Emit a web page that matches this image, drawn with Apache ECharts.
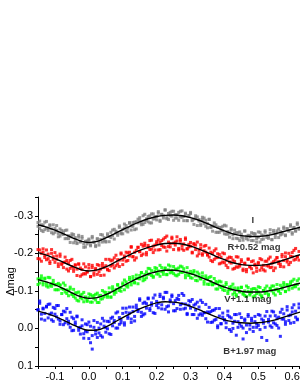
<!DOCTYPE html>
<html><head><meta charset="utf-8">
<script src="https://cdn.jsdelivr.net/npm/echarts@6/dist/echarts.min.js"></script>
<style>html,body{margin:0;padding:0;background:#fff}#c{width:300px;height:388px}</style>
</head><body><div id="c"></div>
<script>
const phase = [
-0.150,-0.145,-0.140,-0.135,-0.130,
-0.125,-0.120,-0.115,-0.110,-0.105,
-0.100,-0.095,-0.090,-0.085,-0.080,
-0.075,-0.070,-0.065,-0.060,-0.055,
-0.050,-0.045,-0.040,-0.035,-0.030,
-0.025,-0.020,-0.015,-0.010,-0.005,
0.000,0.005,0.010,0.015,0.020,
0.025,0.030,0.035,0.040,0.045,
0.050,0.055,0.060,0.065,0.070,
0.075,0.080,0.085,0.090,0.095,
0.100,0.105,0.110,0.115,0.120,
0.125,0.130,0.135,0.140,0.145,
0.150,0.155,0.160,0.165,0.170,
0.175,0.180,0.185,0.190,0.195,
0.200,0.205,0.210,0.215,0.220,
0.225,0.230,0.235,0.240,0.245,
0.250,0.255,0.260,0.265,0.270,
0.275,0.280,0.285,0.290,0.295,
0.300,0.305,0.310,0.315,0.320,
0.325,0.330,0.335,0.340,0.345,
0.350,0.355,0.360,0.365,0.370,
0.375,0.380,0.385,0.390,0.395,
0.400,0.405,0.410,0.415,0.420,
0.425,0.430,0.435,0.440,0.445,
0.450,0.455,0.460,0.465,0.470,
0.475,0.480,0.485,0.490,0.495,
0.500,0.505,0.510,0.515,0.520,
0.525,0.530,0.535,0.540,0.545,
0.550,0.555,0.560,0.565,0.570,
0.575,0.580,0.585,0.590,0.595,
0.600,0.605,0.610,0.615,0.620];

const iMagA = [
-0.272,-0.286,-0.261,-0.275,-0.263,
-0.285,-0.267,-0.274,-0.255,-0.276,
-0.256,-0.261,-0.244,-0.265,-0.252,
-0.257,-0.239,-0.262,-0.239,-0.244,
-0.252,-0.228,-0.242,-0.228,-0.248,
-0.230,-0.240,-0.216,-0.232,-0.225,
-0.235,-0.220,-0.241,-0.230,-0.218,
-0.239,-0.230,-0.250,-0.230,-0.242,
-0.230,-0.252,-0.245,-0.242,-0.262,
-0.238,-0.259,-0.254,-0.269,-0.252,
-0.264,-0.278,-0.260,-0.267,-0.280,
-0.262,-0.282,-0.263,-0.284,-0.281,
-0.295,-0.281,-0.277,-0.304,-0.292,
-0.284,-0.300,-0.281,-0.305,-0.293,
-0.298,-0.311,-0.288,-0.303,-0.294,
-0.315,-0.292,-0.306,-0.300,-0.312,
-0.288,-0.303,-0.294,-0.309,-0.297,
-0.313,-0.287,-0.304,-0.287,-0.300,
-0.306,-0.289,-0.291,-0.300,-0.274,
-0.290,-0.278,-0.296,-0.279,-0.288,
-0.268,-0.291,-0.269,-0.273,-0.281,
-0.256,-0.270,-0.256,-0.269,-0.260,
-0.275,-0.251,-0.258,-0.243,-0.262,
-0.249,-0.262,-0.240,-0.255,-0.234,
-0.251,-0.242,-0.259,-0.245,-0.236,
-0.247,-0.255,-0.234,-0.252,-0.239,
-0.257,-0.230,-0.249,-0.238,-0.256,
-0.247,-0.244,-0.263,-0.237,-0.256,
-0.242,-0.254,-0.265,-0.249,-0.255,
-0.266,-0.247,-0.266,-0.259,-0.276,
-0.255,-0.269,-0.260,-0.277,-0.267];
const iMagB = [
-0.282,-0.266,-0.276,-0.258,-0.283,
-0.267,-0.261,-0.276,-0.265,-0.252,
-0.266,-0.274,-0.253,-0.246,-0.261,
-0.250,-0.261,-0.240,-0.247,-0.229,
-0.247,-0.250,-0.234,-0.226,-0.243,
-0.232,-0.245,-0.225,-0.217,-0.233,
-0.238,-0.223,-0.245,-0.229,-0.221,
-0.238,-0.222,-0.237,-0.249,-0.234,
-0.232,-0.247,-0.231,-0.256,-0.247,
-0.264,-0.254,-0.248,-0.273,-0.255,
-0.252,-0.267,-0.274,-0.257,-0.282,
-0.273,-0.272,-0.283,-0.265,-0.291,
-0.287,-0.276,-0.300,-0.282,-0.288,
-0.298,-0.281,-0.305,-0.291,-0.298,
-0.289,-0.307,-0.285,-0.304,-0.300,
-0.316,-0.295,-0.290,-0.309,-0.299,
-0.312,-0.294,-0.303,-0.288,-0.312,
-0.296,-0.298,-0.307,-0.287,-0.301,
-0.309,-0.287,-0.277,-0.294,-0.297,
-0.286,-0.274,-0.290,-0.294,-0.272,
-0.279,-0.290,-0.270,-0.259,-0.272,
-0.276,-0.256,-0.269,-0.261,-0.272,
-0.252,-0.273,-0.251,-0.254,-0.266,
-0.239,-0.253,-0.255,-0.239,-0.257,
-0.243,-0.235,-0.260,-0.239,-0.248,
-0.245,-0.234,-0.253,-0.251,-0.230,
-0.243,-0.256,-0.237,-0.247,-0.260,
-0.242,-0.240,-0.253,-0.236,-0.261,
-0.249,-0.260,-0.242,-0.258,-0.251,
-0.270,-0.249,-0.265,-0.261,-0.272,
-0.251,-0.268,-0.259,-0.281,-0.264];

const rMagA = [
-0.210,-0.185,-0.200,-0.212,-0.189,
-0.183,-0.198,-0.173,-0.200,-0.184,
-0.202,-0.184,-0.172,-0.198,-0.170,
-0.162,-0.177,-0.181,-0.153,-0.181,
-0.165,-0.159,-0.169,-0.141,-0.171,
-0.161,-0.143,-0.172,-0.145,-0.151,
-0.161,-0.138,-0.168,-0.148,-0.156,
-0.144,-0.168,-0.141,-0.166,-0.162,
-0.184,-0.158,-0.154,-0.180,-0.169,
-0.188,-0.167,-0.183,-0.165,-0.201,
-0.182,-0.188,-0.203,-0.181,-0.203,
-0.216,-0.191,-0.182,-0.208,-0.216,
-0.205,-0.194,-0.219,-0.227,-0.202,
-0.216,-0.234,-0.211,-0.202,-0.222,
-0.231,-0.209,-0.229,-0.221,-0.238,
-0.216,-0.246,-0.218,-0.226,-0.243,
-0.210,-0.230,-0.233,-0.213,-0.237,
-0.220,-0.208,-0.241,-0.212,-0.224,
-0.219,-0.203,-0.226,-0.222,-0.193,
-0.208,-0.223,-0.195,-0.207,-0.221,
-0.195,-0.190,-0.203,-0.178,-0.207,
-0.188,-0.199,-0.172,-0.190,-0.177,
-0.199,-0.168,-0.187,-0.177,-0.189,
-0.158,-0.178,-0.164,-0.190,-0.166,
-0.178,-0.158,-0.172,-0.151,-0.184,
-0.164,-0.159,-0.180,-0.168,-0.152,
-0.173,-0.186,-0.162,-0.156,-0.179,
-0.167,-0.185,-0.162,-0.174,-0.154,
-0.182,-0.189,-0.173,-0.165,-0.191,
-0.181,-0.201,-0.177,-0.170,-0.192,
-0.202,-0.182,-0.213,-0.191,-0.182];
const rMagB = [
-0.186,-0.209,-0.179,-0.203,-0.195,
-0.209,-0.186,-0.178,-0.210,-0.191,
-0.176,-0.193,-0.165,-0.192,-0.173,
-0.176,-0.190,-0.158,-0.174,-0.160,
-0.184,-0.152,-0.169,-0.158,-0.172,
-0.139,-0.157,-0.146,-0.164,-0.150,
-0.170,-0.138,-0.162,-0.142,-0.160,
-0.170,-0.151,-0.158,-0.173,-0.142,
-0.167,-0.156,-0.184,-0.166,-0.182,
-0.161,-0.195,-0.172,-0.182,-0.198,
-0.170,-0.193,-0.179,-0.201,-0.193,
-0.218,-0.191,-0.203,-0.188,-0.216,
-0.204,-0.224,-0.198,-0.221,-0.196,
-0.221,-0.210,-0.235,-0.219,-0.209,
-0.225,-0.236,-0.210,-0.234,-0.217,
-0.242,-0.206,-0.230,-0.217,-0.239,
-0.227,-0.222,-0.244,-0.209,-0.232,
-0.212,-0.225,-0.237,-0.212,-0.217,
-0.229,-0.201,-0.224,-0.210,-0.230,
-0.199,-0.214,-0.199,-0.219,-0.203,
-0.197,-0.214,-0.181,-0.200,-0.184,
-0.212,-0.189,-0.197,-0.174,-0.201,
-0.175,-0.182,-0.162,-0.190,-0.174,
-0.182,-0.160,-0.191,-0.163,-0.171,
-0.183,-0.154,-0.174,-0.157,-0.185,
-0.164,-0.178,-0.148,-0.171,-0.161,
-0.176,-0.155,-0.183,-0.168,-0.153,
-0.179,-0.166,-0.190,-0.163,-0.178,
-0.161,-0.188,-0.178,-0.171,-0.197,
-0.164,-0.191,-0.182,-0.200,-0.176,
-0.191,-0.208,-0.184,-0.190,-0.205];

const vMagA = [
-0.132,-0.121,-0.140,-0.122,-0.132,
-0.113,-0.136,-0.115,-0.119,-0.128,
-0.103,-0.117,-0.103,-0.115,-0.106,
-0.121,-0.097,-0.103,-0.087,-0.105,
-0.092,-0.104,-0.081,-0.095,-0.073,
-0.089,-0.079,-0.096,-0.081,-0.072,
-0.082,-0.090,-0.070,-0.088,-0.076,
-0.094,-0.069,-0.088,-0.079,-0.097,
-0.090,-0.088,-0.108,-0.084,-0.104,
-0.091,-0.104,-0.117,-0.101,-0.109,
-0.121,-0.103,-0.124,-0.117,-0.136,
-0.116,-0.131,-0.123,-0.142,-0.133,
-0.132,-0.149,-0.127,-0.144,-0.135,
-0.160,-0.145,-0.154,-0.139,-0.162,
-0.145,-0.153,-0.139,-0.162,-0.152,
-0.160,-0.144,-0.169,-0.148,-0.155,
-0.165,-0.142,-0.158,-0.144,-0.166,
-0.149,-0.159,-0.135,-0.150,-0.142,
-0.152,-0.134,-0.154,-0.140,-0.127,
-0.145,-0.132,-0.148,-0.125,-0.134,
-0.118,-0.136,-0.125,-0.117,-0.133,
-0.105,-0.122,-0.113,-0.124,-0.103,
-0.111,-0.122,-0.100,-0.103,-0.112,
-0.091,-0.108,-0.086,-0.105,-0.099,
-0.110,-0.094,-0.088,-0.113,-0.099,
-0.089,-0.104,-0.084,-0.106,-0.093,
-0.097,-0.109,-0.087,-0.101,-0.093,
-0.113,-0.091,-0.106,-0.100,-0.113,
-0.089,-0.105,-0.099,-0.115,-0.105,
-0.122,-0.098,-0.117,-0.103,-0.118,
-0.126,-0.111,-0.116,-0.127,-0.105];
const vMagB = [
-0.117,-0.131,-0.133,-0.116,-0.134,
-0.120,-0.110,-0.135,-0.112,-0.121,
-0.116,-0.103,-0.120,-0.116,-0.093,
-0.104,-0.115,-0.093,-0.100,-0.110,
-0.090,-0.085,-0.095,-0.075,-0.097,
-0.082,-0.091,-0.071,-0.084,-0.075,
-0.092,-0.070,-0.086,-0.080,-0.091,
-0.069,-0.087,-0.078,-0.101,-0.084,
-0.096,-0.083,-0.096,-0.083,-0.111,
-0.098,-0.096,-0.115,-0.108,-0.099,
-0.117,-0.129,-0.113,-0.110,-0.130,
-0.123,-0.138,-0.121,-0.133,-0.119,
-0.141,-0.148,-0.136,-0.130,-0.151,
-0.144,-0.159,-0.141,-0.136,-0.153,
-0.160,-0.145,-0.168,-0.151,-0.144,
-0.161,-0.143,-0.156,-0.166,-0.150,
-0.146,-0.158,-0.140,-0.161,-0.150,
-0.164,-0.151,-0.142,-0.162,-0.141,
-0.135,-0.146,-0.150,-0.128,-0.150,
-0.137,-0.132,-0.139,-0.118,-0.140,
-0.132,-0.117,-0.138,-0.116,-0.119,
-0.125,-0.105,-0.126,-0.109,-0.113,
-0.101,-0.117,-0.093,-0.110,-0.104,
-0.118,-0.096,-0.090,-0.108,-0.097,
-0.109,-0.091,-0.100,-0.085,-0.109,
-0.093,-0.096,-0.106,-0.087,-0.102,
-0.111,-0.090,-0.083,-0.101,-0.107,
-0.097,-0.088,-0.107,-0.113,-0.094,
-0.103,-0.117,-0.101,-0.093,-0.109,
-0.116,-0.099,-0.115,-0.110,-0.124,
-0.107,-0.131,-0.111,-0.117,-0.132];

const bMagA = [
-0.050,-0.073,-0.038,-0.052,-0.022,
-0.057,-0.064,-0.038,-0.023,-0.056,
-0.038,-0.061,-0.025,-0.011,-0.037,
-0.046,-0.015,-0.053,-0.019,-0.003,
-0.030,0.005,-0.017,-0.033,-0.002,
0.015,-0.007,0.026,-0.012,0.009,
-0.017,0.038,0.019,-0.021,0.015,
0.024,-0.001,-0.012,0.023,-0.020,
-0.002,0.001,-0.018,0.016,-0.030,
-0.021,-0.001,-0.044,-0.011,-0.022,
-0.040,-0.009,-0.054,-0.027,-0.041,
-0.025,-0.057,-0.020,-0.055,-0.050,
-0.079,-0.043,-0.036,-0.070,-0.054,
-0.079,-0.048,-0.068,-0.042,-0.089,
-0.061,-0.067,-0.085,-0.052,-0.079,
-0.096,-0.058,-0.044,-0.076,-0.085,
-0.066,-0.047,-0.080,-0.088,-0.051,
-0.066,-0.088,-0.054,-0.037,-0.062,
-0.072,-0.037,-0.062,-0.049,-0.070,
-0.036,-0.075,-0.035,-0.042,-0.064,
-0.017,-0.042,-0.045,-0.017,-0.049,
-0.024,-0.007,-0.053,-0.013,-0.030,
-0.023,-0.002,-0.035,-0.031,0.008,
-0.014,-0.037,0.018,-0.018,-0.039,
-0.006,-0.001,-0.021,0.011,-0.032,
-0.009,-0.027,0.008,-0.018,-0.003,
-0.037,0.003,-0.025,-0.014,-0.033,
0.032,-0.024,-0.007,-0.046,-0.015,
-0.034,-0.008,-0.030,0.021,-0.051,
-0.025,-0.018,-0.049,-0.034,-0.014,
-0.044,-0.063,-0.030,-0.023,-0.055];
const bMagB = [
-0.049,-0.067,-0.025,-0.054,-0.040,
-0.059,-0.028,-0.065,-0.041,-0.019,
-0.053,-0.031,-0.061,-0.020,-0.037,
-0.010,-0.044,-0.026,-0.012,-0.043,
0.006,-0.026,-0.011,-0.031,0.005,
-0.003,-0.023,0.014,0.007,-0.010,
0.027,-0.006,0.055,-0.003,0.006,
-0.016,0.012,0.019,-0.027,-0.006,
0.010,-0.019,0.014,-0.027,-0.007,
-0.016,-0.041,-0.001,-0.029,-0.015,
-0.054,-0.015,-0.043,-0.032,-0.057,
-0.016,-0.045,-0.032,-0.062,-0.045,
-0.075,-0.032,-0.067,-0.039,-0.066,
-0.081,-0.053,-0.062,-0.081,-0.040,
-0.072,-0.055,-0.091,-0.063,-0.083,
-0.051,-0.096,-0.060,-0.071,-0.089,
-0.047,-0.074,-0.053,-0.077,-0.063,
-0.093,-0.052,-0.065,-0.040,-0.074,
-0.054,-0.077,-0.037,-0.065,-0.027,
-0.057,-0.039,-0.069,-0.042,-0.026,
-0.044,-0.056,-0.016,-0.048,-0.022,
-0.053,-0.002,-0.033,-0.012,-0.041,
-0.023,-0.015,-0.046,0.003,-0.028,
0.000,-0.019,-0.037,-0.003,-0.012,
-0.029,0.028,-0.025,-0.009,-0.037,
0.002,-0.021,-0.003,-0.032,-0.012,
-0.008,-0.035,0.024,-0.021,-0.003,
-0.045,-0.017,-0.033,-0.003,-0.044,
-0.012,-0.026,-0.001,-0.043,-0.025,
-0.039,-0.011,-0.058,-0.021,-0.036,
-0.055,-0.016,-0.046,-0.025,-0.065];

const fitPhase = [-0.150,-0.125,-0.100,-0.075,-0.050,-0.025,0.000,0.025,0.050,0.075,0.100,0.125,0.150,0.175,0.200,0.225,0.250,0.275,0.300,0.325,0.350,0.375,0.400,0.425,0.450,0.475,0.500,0.525,0.550,0.575,0.600,0.625];
const iFit = [-0.276,-0.270,-0.262,-0.252,-0.242,-0.233,-0.229,-0.232,-0.241,-0.252,-0.263,-0.274,-0.284,-0.292,-0.298,-0.301,-0.302,-0.300,-0.295,-0.288,-0.279,-0.269,-0.260,-0.252,-0.247,-0.245,-0.245,-0.247,-0.252,-0.258,-0.264,-0.270];
const rFit = [-0.202,-0.195,-0.186,-0.176,-0.166,-0.157,-0.153,-0.156,-0.164,-0.175,-0.187,-0.198,-0.208,-0.216,-0.222,-0.226,-0.227,-0.225,-0.219,-0.211,-0.202,-0.192,-0.183,-0.175,-0.170,-0.168,-0.168,-0.170,-0.175,-0.182,-0.190,-0.197];
const vFit = [-0.130,-0.124,-0.116,-0.106,-0.095,-0.085,-0.080,-0.082,-0.090,-0.101,-0.113,-0.125,-0.136,-0.145,-0.151,-0.155,-0.155,-0.152,-0.146,-0.138,-0.129,-0.119,-0.110,-0.103,-0.099,-0.097,-0.097,-0.099,-0.103,-0.109,-0.115,-0.121];
const bFit = [-0.046,-0.040,-0.032,-0.022,-0.011,-0.001,0.005,0.004,-0.004,-0.016,-0.029,-0.041,-0.052,-0.061,-0.068,-0.071,-0.070,-0.066,-0.059,-0.050,-0.040,-0.031,-0.023,-0.018,-0.015,-0.014,-0.015,-0.018,-0.023,-0.030,-0.037,-0.044];

const bandNames = ['I', 'R+0.52 mag', 'V+1.1 mag', 'B+1.97 mag'];
const bandColors = ['#808080', '#ff0000', '#00ff00', '#0000ff'];
const labelPhase = [0.484, 0.487, 0.469, 0.475];
const labelMag = [-0.289, -0.215, -0.077, 0.061];

const xTicks = { min: -0.15, max: 0.62, interval: 0.05 };
const yTicks = { min: -0.35, max: 0.10, interval: 0.05 };

const FONT = '"Liberation Sans", Arial, sans-serif';
const pair = (ys) => phase.map((p, i) => [p, ys[i]]);
const fitPair = (ys) => fitPhase.map((p, i) => [p, ys[i]]);
const fmt = (v) => { const n = Math.round(v * 100); if (n % 10 !== 0) return ''; return (n / 100).toFixed(1); };

const bands = [[iMagA, iMagB], [rMagA, rMagB], [vMagA, vMagB], [bMagA, bMagB]];
const fits = [iFit, rFit, vFit, bFit];

const series = [];
bands.forEach((b, k) => {
  series.push({
    type: 'scatter', name: bandNames[k], data: pair(b[0]).concat(pair(b[1])),
    symbol: 'rect', symbolSize: 3, itemStyle: { color: bandColors[k] },
    silent: true, animation: false
  });
});
fits.forEach((f) => {
  series.push({
    type: 'line', data: fitPair(f), smooth: 0.4, showSymbol: false, symbol: 'none',
    lineStyle: { color: '#000', width: 1.4 }, silent: true, animation: false, z: 5
  });
});
series.push({
  type: 'scatter', symbolSize: 0, silent: true, animation: false, z: 6,
  data: labelPhase.map((p, i) => ({ value: [p, labelMag[i]], name: bandNames[i] })),
  label: { show: true, position: 'inside', formatter: (d) => d.name,
    color: '#000', fontSize: 9.5, fontWeight: 'bold', fontFamily: FONT }
});

const chart = echarts.init(document.getElementById('c'), null, { renderer: 'canvas' });
chart.setOption({
  animation: false,
  backgroundColor: '#fff',
  grid: { left: 38, right: 1, top: 197, bottom: 22, containLabel: false, outerBoundsMode: 'none' },
  xAxis: {
    type: 'value', min: xTicks.min, max: xTicks.max, interval: xTicks.interval,
    axisLine: { show: true, onZero: false, lineStyle: { color: '#000', width: 1 } },
    axisTick: { show: true, inside: false, length: 3, lineStyle: { color: '#000' } },
    axisLabel: { formatter: fmt, color: '#000', fontSize: 11, fontFamily: FONT, margin: 5 },
    splitLine: { show: false }
  },
  yAxis: {
    type: 'value', inverse: true, min: yTicks.min, max: yTicks.max, interval: yTicks.interval,
    name: 'Δmag', nameLocation: 'middle', nameGap: 22, nameRotate: 90, nameMoveOverlap: false,
    nameTextStyle: { color: '#000', fontSize: 11, fontFamily: FONT },
    axisLine: { show: true, onZero: false, lineStyle: { color: '#000', width: 1 } },
    axisTick: { show: true, inside: false, length: 3, lineStyle: { color: '#000' } },
    axisLabel: { formatter: fmt, color: '#000', fontSize: 11, fontFamily: FONT, margin: 5 },
    splitLine: { show: false }
  },
  series: series
});
</script>
</body></html>
